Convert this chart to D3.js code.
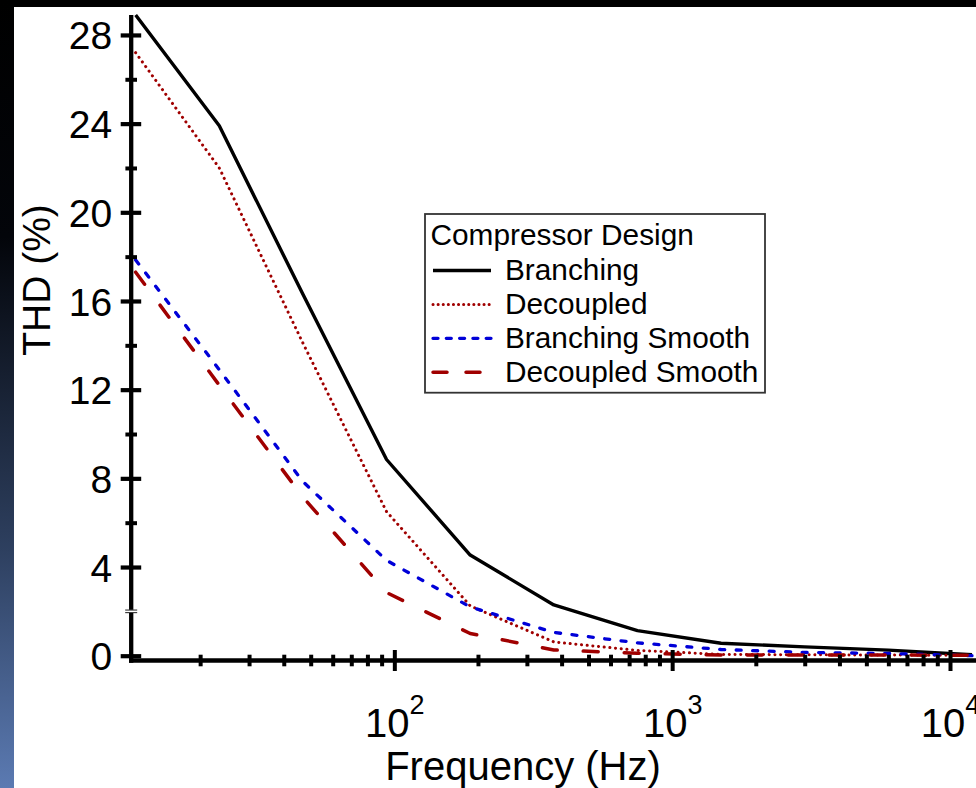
<!DOCTYPE html>
<html>
<head>
<meta charset="utf-8">
<script src="https://cdn.jsdelivr.net/npm/d3@7"></script>
<style>
  body { margin: 0; background: #000; }
  svg { display: block; font-family: "Liberation Sans", Arial, sans-serif; }
</style>
</head>
<body>
<svg id="chart"></svg>
<script>
// Frequencies (Hz) the THD was measured at, octave steps
var freqs = [11.72, 23.44, 46.88, 93.75, 187.5, 375, 750, 1500, 3000, 6000, 12000];

// THD (%) per compressor design
var branching       = [28.9, 23.9, 16.3, 8.85, 4.54, 2.29, 1.13, 0.56, 0.40, 0.25, 0.04];
var decoupled       = [27.2, 22.0, 14.1, 6.5, 2.25, 0.62, 0.24, 0.06, 0.04, 0.03, 0.02];
var branchingSmooth = [17.85, 12.9, 7.85, 4.3, 2.2, 1.05, 0.58, 0.28, 0.15, 0.10, 0.0];
var decoupledSmooth = [17.3, 12.2, 7.15, 2.85, 1.0, 0.26, 0.11, 0.03, 0.03, 0.03, 0.02];

var seriesNames = ["Branching", "Decoupled", "Branching Smooth", "Decoupled Smooth"];

// tick values
var yMajor = [0, 4, 8, 12, 16, 20, 24, 28];
var yMinor = [6, 10, 14, 18, 22, 26];
var xMajor = [100, 1000, 10000];
var xMinor = [20, 30, 40, 50, 60, 70, 80, 90,
              200, 300, 400, 500, 600, 700, 800, 900,
              2000, 3000, 4000, 5000, 6000, 7000, 8000, 9000];

var width = 976, height = 788;

var chart = d3.select('#chart')
	.attr('width', width)
	.attr('height', height);

// slide background: black frame, blue fade on the left edge
var defs = chart.append('defs');
var grad = defs.append('linearGradient')
	.attr('id', 'side')
	.attr('x1', 0).attr('y1', 0).attr('x2', 0).attr('y2', 1);
grad.append('stop').attr('offset', '0').attr('stop-color', '#000');
grad.append('stop').attr('offset', '0.3').attr('stop-color', '#03050a');
grad.append('stop').attr('offset', '0.7').attr('stop-color', '#2e4060');
grad.append('stop').attr('offset', '1').attr('stop-color', '#5b7ab2');

chart.append('rect').attr('width', width).attr('height', height).attr('fill', '#000');
chart.append('rect').attr('x', 0).attr('y', 0).attr('width', 14).attr('height', height).attr('fill', 'url(#side)');
chart.append('rect').attr('x', 14).attr('y', 7).attr('width', width - 14).attr('height', height - 7).attr('fill', '#fff');

// scales
var xScale = d3.scaleLog()
	.domain([10, 10000])
	.range([116.5, 950]);

var yScale = d3.scaleLinear()
	.domain([0, 28.9])
	.range([655.7, 15]);

var axisX = 131.2, axisY = 660.5;

// lines
var styles = [
	{ color: '#000', width: 3.4, dash: null, legendDash: null, cap: 'butt' },
	{ color: '#a00000', width: 3, dash: '0.1,5.6', legendDash: '0.1,5', cap: 'round' },
	{ color: '#0000d8', width: 3.3, dash: '5,11.5', legendDash: '5,8.3', cap: 'round' },
	{ color: '#a00000', width: 3.5, dash: '15,26', legendDash: '14,19', cap: 'round' }
];
var allSeries = [branching, decoupled, branchingSmooth, decoupledSmooth];

var line = d3.line()
	.x(function(d, i) { return xScale(freqs[i]); })
	.y(function(d) { return yScale(d); });

var clip = defs.append('clipPath').attr('id', 'plot-clip');
clip.append('rect').attr('x', axisX).attr('y', 7).attr('width', width - axisX).attr('height', axisY - 7);

chart.append('g')
	.attr('clip-path', 'url(#plot-clip)')
	.selectAll('path')
	.data(allSeries)
	.enter().append('path')
		.attr('d', line)
		.attr('fill', 'none')
		.attr('stroke', function(d, i) { return styles[i].color; })
		.attr('stroke-width', function(d, i) { return styles[i].width; })
		.attr('stroke-dasharray', function(d, i) { return styles[i].dash; })
		.attr('stroke-linecap', function(d, i) { return styles[i].cap; })
		.attr('stroke-linejoin', 'round');

// x axis: minor ticks, then major ticks with 10^n labels
var xMinorAxis = chart.append('g')
	.attr('transform', 'translate(0,' + axisY + ')')
	.call(d3.axisBottom(xScale).tickValues(xMinor).tickFormat(''));
xMinorAxis.selectAll('.tick line')
	.attr('y1', -5.8).attr('y2', 5.8)
	.attr('stroke', '#000').attr('stroke-width', 4);

var xMajorAxis = chart.append('g')
	.attr('transform', 'translate(0,' + axisY + ')')
	.call(d3.axisBottom(xScale).tickValues(xMajor).tickFormat(''));
xMajorAxis.selectAll('.tick line')
	.attr('y1', -10.5).attr('y2', 10.5)
	.attr('stroke', '#000').attr('stroke-width', 4);
xMajorAxis.selectAll('.tick').append('text')
	.attr('y', 76)
	.attr('fill', '#000')
	.attr('text-anchor', 'middle')
	.style('font-size', '40px')
	.each(function(d) {
		var t = d3.select(this);
		t.append('tspan').text('10');
		t.append('tspan')
			.attr('dy', -23)
			.style('font-size', '27px')
			.text(Math.round(Math.log10(d)));
	});
chart.selectAll('.domain').remove();

chart.append('line')
	.attr('x1', 129).attr('x2', width)
	.attr('y1', axisY).attr('y2', axisY)
	.attr('stroke', '#000').attr('stroke-width', 4.4);

// y axis
var yMinorAxis = chart.append('g')
	.attr('transform', 'translate(' + axisX + ',0)')
	.call(d3.axisLeft(yScale).tickValues(yMinor).tickFormat(''));
yMinorAxis.selectAll('.tick line')
	.attr('x1', -5.8).attr('x2', 5.8)
	.attr('stroke', '#000').attr('stroke-width', 4);

var yMajorAxis = chart.append('g')
	.attr('transform', 'translate(' + axisX + ',0)')
	.call(d3.axisLeft(yScale).tickValues(yMajor).tickFormat(d3.format('d')));
yMajorAxis.selectAll('.tick line')
	.attr('x1', -10.5).attr('x2', 10)
	.attr('stroke', '#000').attr('stroke-width', 4.2);
yMajorAxis.selectAll('.tick text')
	.attr('x', -19)
	.attr('dy', '0.36em')
	.attr('fill', '#000')
	.style('font-size', '39px')
	.style('font-family', '"Liberation Sans", Arial, sans-serif');
chart.selectAll('.domain').remove();

chart.append('line')
	.attr('x1', axisX).attr('x2', axisX)
	.attr('y1', 15).attr('y2', 662.7)
	.attr('stroke', '#000').attr('stroke-width', 4.3);

// the small break mark on the y axis at 2
var brk = chart.append('g').attr('transform', 'translate(' + axisX + ',' + yScale(2) + ')');
brk.append('rect').attr('x', -6).attr('y', -1.6).attr('width', 12).attr('height', 3.2).attr('fill', '#fff');
brk.append('line').attr('x1', -6).attr('x2', 6).attr('y1', -1.3).attr('y2', -1.3).attr('stroke', '#000').attr('stroke-width', 0.9);
brk.append('line').attr('x1', -6).attr('x2', 6).attr('y1', 1.3).attr('y2', 1.3).attr('stroke', '#000').attr('stroke-width', 0.9);

// axis titles
chart.append('text')
	.attr('x', 523).attr('y', 780)
	.attr('text-anchor', 'middle')
	.style('font-size', '40px')
	.text('Frequency (Hz)');

chart.append('text')
	.attr('transform', 'translate(50,280) rotate(-90)')
	.attr('text-anchor', 'middle')
	.style('font-size', '39px')
	.text('THD (%)');

// legend
var legend = chart.append('g').attr('transform', 'translate(425,214)');
legend.append('rect')
	.attr('width', 340).attr('height', 178.7)
	.attr('fill', '#fff')
	.attr('stroke', '#333').attr('stroke-width', 1.8);
legend.append('text')
	.attr('x', 5.5).attr('y', 31)
	.style('font-size', '29.8px')
	.text('Compressor Design');

var rows = legend.selectAll('.row')
	.data(seriesNames)
	.enter().append('g')
		.attr('class', 'row')
		.attr('transform', function(d, i) { return 'translate(0,' + (66 + i * 33.9) + ')'; });
rows.append('line')
	.attr('x1', 8).attr('x2', 66)
	.attr('y1', -9.5).attr('y2', -9.5)
	.attr('stroke', function(d, i) { return styles[i].color; })
	.attr('stroke-width', function(d, i) { return styles[i].width; })
	.attr('stroke-dasharray', function(d, i) { return styles[i].legendDash; })
	.attr('stroke-linecap', function(d, i) { return styles[i].cap; });
rows.append('text')
	.attr('x', 80)
	.style('font-size', '29.8px')
	.text(function(d) { return d; });
</script>
</body>
</html>
